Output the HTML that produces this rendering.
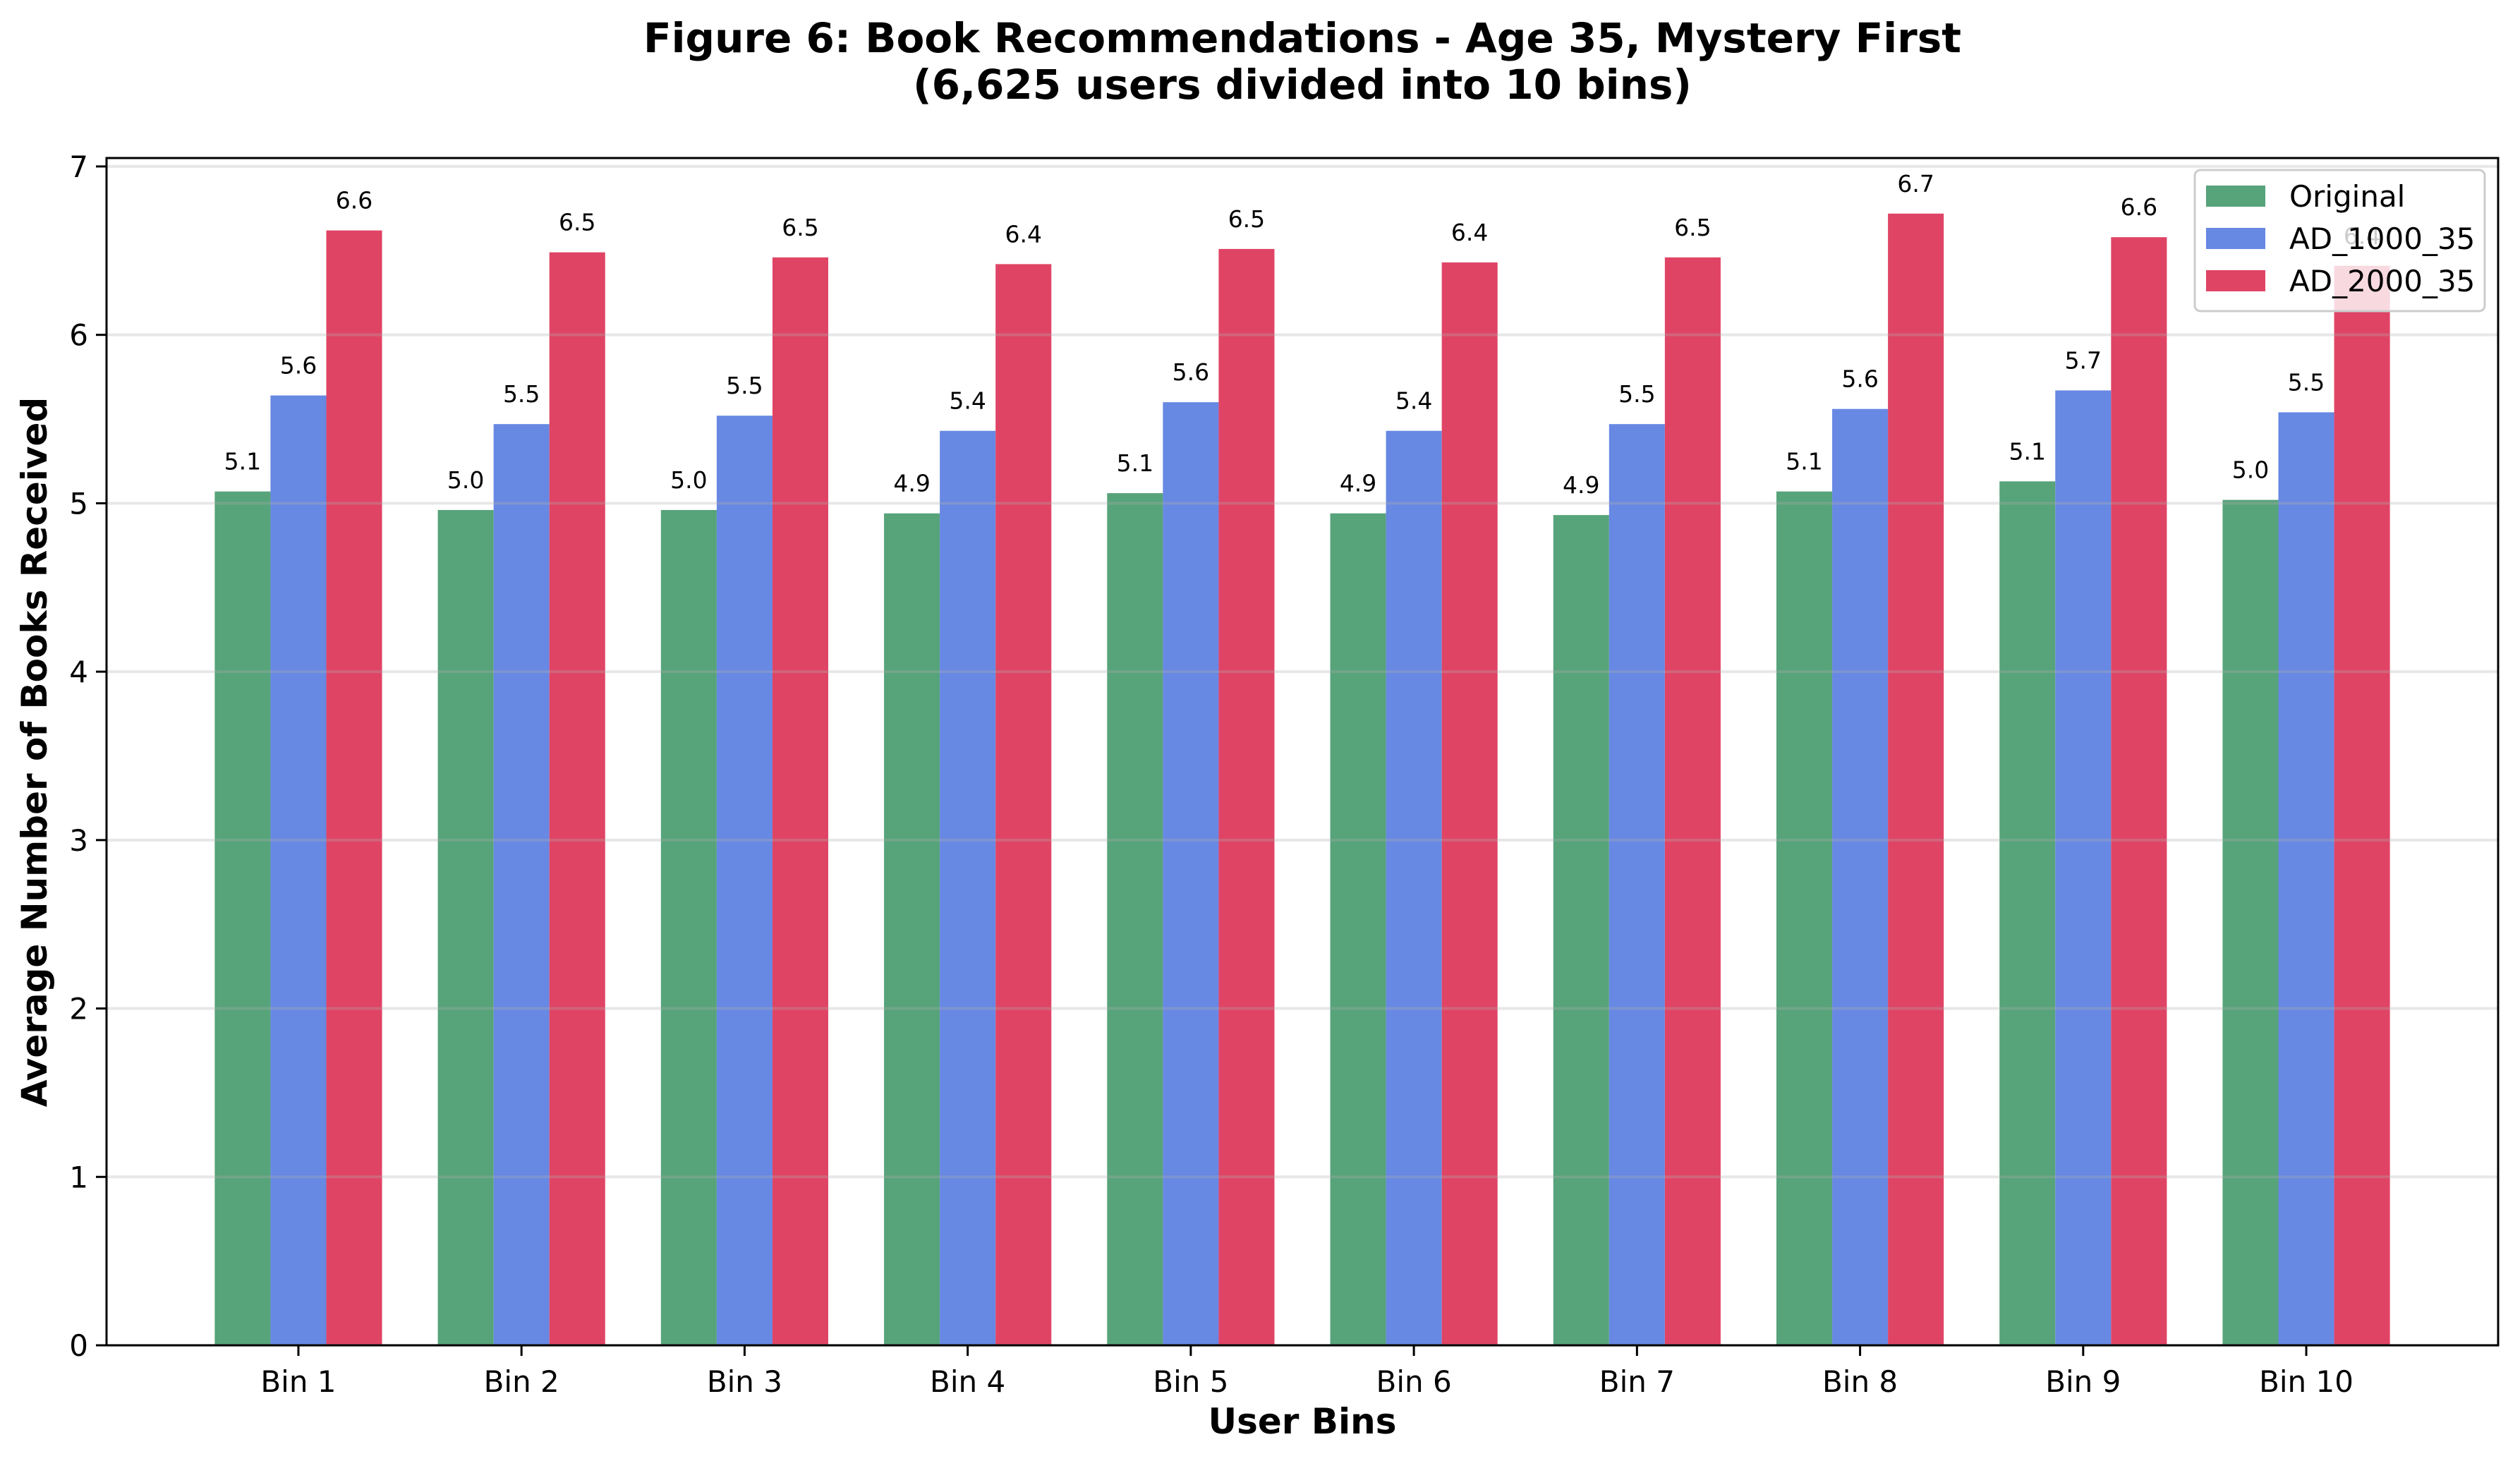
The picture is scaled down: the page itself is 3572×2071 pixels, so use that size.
<!DOCTYPE html>
<html><head><meta charset="utf-8"><style>
html,body{margin:0;padding:0;background:#fff;}
svg{display:block;font-family:"DejaVu Sans","Liberation Sans",sans-serif;}
</style></head><body>
<svg id="chart" width="3572" height="2071" viewBox="0 0 3572 2071" xmlns="http://www.w3.org/2000/svg">
<rect x="0" y="0" width="3572" height="2071" fill="#fff"/>
<text x="1846" y="74" text-anchor="middle" font-size="58" font-weight="bold">Figure 6: Book Recommendations - Age 35, Mystery First</text>
<text x="1846" y="140" text-anchor="middle" font-size="58" font-weight="bold">(6,625 users divided into 10 bins)</text>
<g id="bars"></g>
<g id="grid"></g>
<g id="labels"></g>
<g id="axes"></g>
<text x="1846" y="2032" text-anchor="middle" font-size="50" font-weight="bold">User Bins</text>
<text transform="translate(66,1066) rotate(-90)" text-anchor="middle" font-size="50" font-weight="bold">Average Number of Books Received</text>
<g id="legend"></g>
</svg>
<script>
const categories = ["Bin 1","Bin 2","Bin 3","Bin 4","Bin 5","Bin 6","Bin 7","Bin 8","Bin 9","Bin 10"];
const originalValues = [5.07,4.96,4.96,4.94,5.06,4.94,4.93,5.07,5.13,5.02];
const ad1000Values = [5.64,5.47,5.52,5.43,5.60,5.43,5.47,5.56,5.67,5.54];
const ad2000Values = [6.62,6.49,6.46,6.42,6.51,6.43,6.46,6.72,6.58,6.41];
const seriesNames = ["Original","AD_1000_35","AD_2000_35"];
const yTicks = [0,1,2,3,4,5,6,7];

const NS = "http://www.w3.org/2000/svg";
const L = 151, R = 3541, T = 224, B = 1907;
const xMin = -0.86, xMax = categories.length - 1 + 0.86;
const yMin = 0, yMax = 7.05;
const colors = ["#57a37a","#6788e3","#e04465"];
const series = [originalValues, ad1000Values, ad2000Values];
function xs(v){ return L + (v - xMin) / (xMax - xMin) * (R - L); }
function ys(v){ return B - (v - yMin) / (yMax - yMin) * (B - T); }
function mk(tag, attrs, parent){ const e = document.createElementNS(NS, tag); for (const k in attrs) e.setAttribute(k, attrs[k]); parent.appendChild(e); return e; }

const gb = document.getElementById("bars"), gl = document.getElementById("labels"), gg = document.getElementById("grid"), ga = document.getElementById("axes"), gleg = document.getElementById("legend");
const bw = 0.25;
series.forEach((vals, s) => {
  vals.forEach((v, i) => {
    const cx = i + (s - 1) * bw;
    const x0 = xs(cx - bw/2), x1 = xs(cx + bw/2);
    const r = mk("rect", {x:x0, y:ys(v), width:x1-x0, height:ys(0)-ys(v), fill:colors[s]}, gb);
    
    
    const t = mk("text", {x:xs(cx), y:ys(v) - 31, "text-anchor":"middle", "font-size":33}, gl);
    t.textContent = v.toFixed(1);
    
    
  });
});
yTicks.forEach(v => {
  const y = ys(v);
  const g = mk("line", {x1:L, x2:R, y1:y, y2:y, stroke:"#b0b0b0", "stroke-opacity":0.3, "stroke-width":4}, gg);
  
  
  const tk = mk("line", {x1:L-15, x2:L, y1:y, y2:y, stroke:"#000", "stroke-width":3}, ga);
  
  
  const tl = mk("text", {x:L-26, y:y+15, "text-anchor":"end", "font-size":42}, ga);
  tl.textContent = String(v);
  
  
});
categories.forEach((c, i) => {
  const x = xs(i);
  const tk = mk("line", {x1:x, x2:x, y1:B, y2:B+15, stroke:"#000", "stroke-width":3}, ga);
  
  
  const tl = mk("text", {x:x, y:B+66, "text-anchor":"middle", "font-size":42}, ga);
  tl.textContent = c;
  
  
});
const frame = mk("rect", {x:L, y:T, width:R-L, height:B-T, fill:"none", stroke:"#000", "stroke-width":3}, ga);



const lb = mk("rect", {x:3111, y:241, width:411, height:200, rx:8, fill:"#fff", "fill-opacity":0.8, stroke:"#cccccc", "stroke-width":3}, gleg);


seriesNames.forEach((n, s) => {
  const cy = 278 + s * 60;
  const p = mk("rect", {x:3127, y:cy-15, width:84, height:30, fill:colors[s]}, gleg);
  
  
  const t = mk("text", {x:3245, y:cy+15, "font-size":42}, gleg);
  t.textContent = n;
  
  
});
</script>
</body></html>
